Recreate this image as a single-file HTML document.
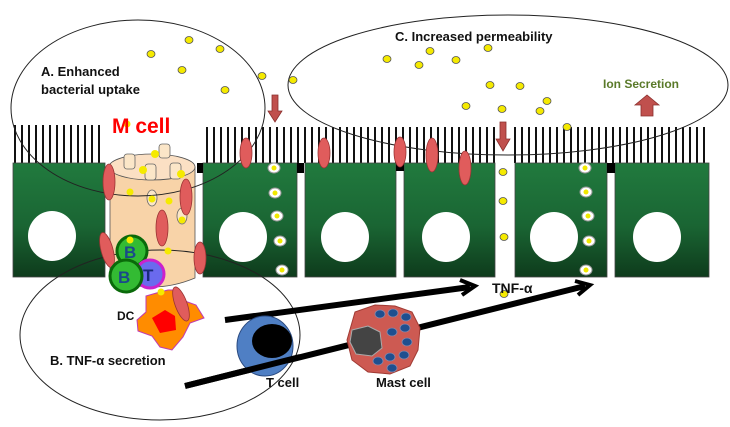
<!DOCTYPE html>
<html><head><meta charset="utf-8"><style>
html,body{margin:0;padding:0;background:#fff;width:730px;height:427px;overflow:hidden}
text{font-family:"Liberation Sans",sans-serif;font-weight:bold}
</style></head><body>
<svg width="730" height="427" viewBox="0 0 730 427" xmlns="http://www.w3.org/2000/svg">
<defs>
<linearGradient id="g" x1="0" y1="0" x2="0" y2="1">
<stop offset="0" stop-color="#217a3e"/><stop offset="0.55" stop-color="#1a6533"/><stop offset="1" stop-color="#0e3b1c"/></linearGradient>
<marker id="ah" markerWidth="10" markerHeight="10" refX="6" refY="5" orient="auto" markerUnits="userSpaceOnUse"><path d="M0,0 L8,5 L0,10" fill="none" stroke="#000" stroke-width="2.5"/></marker>
</defs>
<!-- microvilli -->
<g stroke="#111" stroke-width="2">
<path d="M15,125V163M22,125V163M29,125V163M36,125V163M43,125V163M50,125V163M57,125V163M64,125V163M71,125V163M78,125V163M85,125V163M92,125V163M99,125V163"/>
<path d="M207,127V163M214,127V163M221,127V163M228,127V163M235,127V163M242,127V163M249,127V163M256,127V163M263,127V163M270,127V163M277,127V163M284,127V163M291,127V163M298,127V163M305,127V163M312,127V163M319,127V163M326,127V163M333,127V163M340,127V163M347,127V163M354,127V163M361,127V163M368,127V163M375,127V163M382,127V163M389,127V163M396,127V163M403,127V163M410,127V163M417,127V163M424,127V163M431,127V163M438,127V163M445,127V163M452,127V163M459,127V163M466,127V163M473,127V163M480,127V163M487,127V163M494,127V163"/>
<path d="M515,127V163M522,127V163M529,127V163M536,127V163M543,127V163M550,127V163M557,127V163M564,127V163M571,127V163M578,127V163M585,127V163M592,127V163M599,127V163M606,127V163M613,127V163M620,127V163M627,127V163M634,127V163M641,127V163M648,127V163M655,127V163M662,127V163M669,127V163M676,127V163M683,127V163M690,127V163M697,127V163M704,127V163"/>
</g>
<!-- cells -->
<g fill="url(#g)" stroke="#444" stroke-width="0.8">
<rect x="13" y="163" width="92" height="114"/>
<rect x="203" y="163" width="94" height="114"/>
<rect x="305" y="163" width="91" height="114"/>
<rect x="404" y="163" width="91" height="114"/>
<rect x="515" y="163" width="92" height="114"/>
<rect x="615" y="163" width="94" height="114"/>
</g>
<g fill="#000"><rect x="197" y="163" width="6" height="10"/><rect x="297" y="163" width="7" height="10"/><rect x="396" y="163" width="8" height="8"/><rect x="607" y="163" width="8" height="10"/></g>
<g fill="#fff">
<ellipse cx="52" cy="236" rx="24" ry="25"/>
<ellipse cx="243" cy="237" rx="24" ry="25"/>
<ellipse cx="345" cy="237" rx="24" ry="25"/>
<ellipse cx="446" cy="237" rx="24" ry="25"/>
<ellipse cx="554" cy="237" rx="24" ry="25"/>
<ellipse cx="657" cy="237" rx="24" ry="25"/>
</g>
<!-- vesicles -->
<g fill="#fff" stroke="#999" stroke-width="1">
<ellipse cx="274" cy="168" rx="6" ry="5"/><ellipse cx="275" cy="193" rx="6" ry="5"/><ellipse cx="277" cy="216" rx="6" ry="5"/><ellipse cx="280" cy="241" rx="6" ry="5"/><ellipse cx="282" cy="270" rx="6" ry="5"/>
<ellipse cx="585" cy="168" rx="6" ry="5"/><ellipse cx="586" cy="192" rx="6" ry="5"/><ellipse cx="588" cy="216" rx="6" ry="5"/><ellipse cx="589" cy="241" rx="6" ry="5"/><ellipse cx="586" cy="270" rx="6" ry="5"/>
</g>
<g fill="#f0e800">
<circle cx="274" cy="168" r="2.5"/><circle cx="275" cy="193" r="2.5"/><circle cx="277" cy="216" r="2.5"/><circle cx="280" cy="241" r="2.5"/><circle cx="282" cy="270" r="2.5"/>
<circle cx="585" cy="168" r="2.5"/><circle cx="586" cy="192" r="2.5"/><circle cx="588" cy="216" r="2.5"/><circle cx="589" cy="241" r="2.5"/><circle cx="586" cy="270" r="2.5"/>
</g>
<!-- M cell -->
<path d="M110,167 V278 Q152,296 195,278 V167 Z" fill="#f8d3a8" stroke="#555" stroke-width="0.8"/>
<ellipse cx="152" cy="167" rx="43" ry="13" fill="#fbe0c4" stroke="#555" stroke-width="0.8"/>
<g fill="#fbe6c8" stroke="#666" stroke-width="0.8">
<rect x="124" y="154" width="11" height="15" rx="3"/><rect x="159" y="144" width="11" height="14" rx="3"/><rect x="145" y="164" width="11" height="16" rx="3"/><rect x="170" y="163" width="11" height="16" rx="3"/>
<ellipse cx="152" cy="198" rx="5" ry="8"/><ellipse cx="182" cy="216" rx="5" ry="8"/><ellipse cx="180" cy="7" rx="0" ry="0"/>
</g>
<!-- ellipses -->
<g fill="none" stroke="#222" stroke-width="1">
<ellipse cx="138" cy="108" rx="127" ry="88"/>
<ellipse cx="160" cy="335" rx="140" ry="85"/>
<ellipse cx="508" cy="85" rx="220" ry="70"/>
</g>
<!-- red ovals -->
<g fill="#e05c5c" stroke="#9a3333" stroke-width="0.8">
<ellipse cx="109" cy="182" rx="6" ry="18"/>
<ellipse cx="246" cy="153" rx="6" ry="15"/>
<ellipse cx="324" cy="153" rx="6" ry="15"/>
<ellipse cx="400" cy="152" rx="6" ry="15"/>
<ellipse cx="432" cy="155" rx="6" ry="17"/>
<ellipse cx="465" cy="168" rx="6" ry="17"/>
<ellipse cx="186" cy="197" rx="6" ry="18"/>
<ellipse cx="162" cy="228" rx="6" ry="18"/>
<ellipse cx="107" cy="250" rx="6" ry="18" transform="rotate(-15 107 250)"/>
<ellipse cx="200" cy="258" rx="6" ry="16"/>
</g>
<!-- lymphocytes -->
<circle cx="132" cy="251" r="15" fill="#33bb33" stroke="#0a6a0a" stroke-width="3"/>
<text x="124" y="258" font-size="17" font-weight="normal" fill="#1a4a8a">B</text>
<circle cx="150" cy="274" r="14" fill="#6a6aee" stroke="#cc22cc" stroke-width="3"/>
<text x="143" y="281" font-size="17" font-weight="normal" fill="#1a2a7a">T</text>
<circle cx="126" cy="276" r="16" fill="#33bb33" stroke="#0a6a0a" stroke-width="3"/>
<text x="118" y="283" font-size="17" font-weight="normal" fill="#1a4a8a">B</text>
<!-- DC -->
<path d="M146,296 L160,292 L168,290 L178,290 L182,300 L196,305 L204,318 L190,323 L183,337 L172,350 L160,347 L152,336 L138,331 L137,320 L146,312 Z" fill="#ff8c00" stroke="#c03ab0" stroke-width="1"/>
<path d="M152,318 L165,310 L175,316 L176,330 L160,333 Z" fill="#f00"/>
<ellipse cx="181" cy="304" rx="6" ry="18" transform="rotate(-20 181 304)" fill="#e05c5c" stroke="#9a3333" stroke-width="0.8"/>
<text x="117" y="320" font-size="12" fill="#111">DC</text>
<!-- arrows -->
<g stroke="#000" stroke-width="6" fill="none">
<line x1="225" y1="320" x2="470" y2="287"/>
<line x1="185" y1="386" x2="585" y2="286"/>
</g>
<path d="M460,280 L475,286 L462,295" fill="none" stroke="#000" stroke-width="4"/>
<path d="M575,281 L590,285 L578,295" fill="none" stroke="#000" stroke-width="4"/>
<!-- T cell -->
<ellipse cx="265" cy="346" rx="28" ry="30" fill="#4f7fc4" stroke="#2a4a80" stroke-width="1"/>
<ellipse cx="272" cy="341" rx="20" ry="17" fill="#000"/>
<line x1="185" y1="386" x2="300" y2="357" stroke="#000" stroke-width="6"/>
<text x="266" y="387" font-size="13" fill="#111">T cell</text>
<!-- Mast cell -->
<path d="M355,312 L375,305 L395,306 L412,312 L420,328 L418,350 L410,366 L390,374 L368,372 L352,360 L347,340 Z" fill="#cd5a52" stroke="#a03a33"/>
<path d="M352,330 L368,326 L380,332 L382,348 L372,356 L356,354 L350,342 Z" fill="#444" stroke="#aaa" stroke-width="1"/>
<g fill="#1f4f8f" stroke="#88a" stroke-width="0.8">
<ellipse cx="380" cy="314" rx="5" ry="4"/><ellipse cx="393" cy="313" rx="5" ry="4"/><ellipse cx="406" cy="317" rx="5" ry="4"/>
<ellipse cx="392" cy="332" rx="5" ry="4"/><ellipse cx="405" cy="328" rx="5" ry="4"/><ellipse cx="407" cy="342" rx="5" ry="4"/>
<ellipse cx="404" cy="355" rx="5" ry="4"/><ellipse cx="390" cy="357" rx="5" ry="4"/><ellipse cx="378" cy="361" rx="5" ry="4"/><ellipse cx="392" cy="368" rx="5" ry="4"/>
</g>
<text x="376" y="387" font-size="13" fill="#111">Mast cell</text>
<!-- bacteria -->
<g fill="#f5ea00" stroke="#555" stroke-width="0.8">
<ellipse cx="189" cy="40" rx="4" ry="3.5"/><ellipse cx="151" cy="54" rx="4" ry="3.5"/><ellipse cx="220" cy="49" rx="4" ry="3.5"/><ellipse cx="182" cy="70" rx="4" ry="3.5"/><ellipse cx="225" cy="90" rx="4" ry="3.5"/><ellipse cx="262" cy="76" rx="4" ry="3.5"/><ellipse cx="293" cy="80" rx="4" ry="3.5"/>
<ellipse cx="387" cy="59" rx="4" ry="3.5"/><ellipse cx="430" cy="51" rx="4" ry="3.5"/><ellipse cx="419" cy="65" rx="4" ry="3.5"/><ellipse cx="456" cy="60" rx="4" ry="3.5"/><ellipse cx="488" cy="48" rx="4" ry="3.5"/>
<ellipse cx="490" cy="85" rx="4" ry="3.5"/><ellipse cx="520" cy="86" rx="4" ry="3.5"/><ellipse cx="466" cy="106" rx="4" ry="3.5"/><ellipse cx="502" cy="109" rx="4" ry="3.5"/><ellipse cx="547" cy="101" rx="4" ry="3.5"/><ellipse cx="540" cy="111" rx="4" ry="3.5"/><ellipse cx="567" cy="127" rx="4" ry="3.5"/>
<ellipse cx="503" cy="172" rx="4" ry="3.5"/><ellipse cx="503" cy="201" rx="4" ry="3.5"/><ellipse cx="504" cy="237" rx="4" ry="3.5"/><ellipse cx="504" cy="294" rx="4" ry="3.5"/>
</g>
<g fill="#f5ea00">
<circle cx="155" cy="154" r="4"/><circle cx="143" cy="170" r="4"/><circle cx="181" cy="174" r="4"/><circle cx="130" cy="192" r="3.5"/><circle cx="152" cy="199" r="3.5"/><circle cx="169" cy="201" r="3.5"/><circle cx="182" cy="220" r="3.5"/><circle cx="168" cy="251" r="3.5"/><circle cx="130" cy="240" r="3.5"/><circle cx="161" cy="292" r="3.5"/><circle cx="127" cy="124" r="3.5"/>
</g>
<!-- brown arrows -->
<g fill="#c0504d" stroke="#8a2f2d" stroke-width="0.8">
<path d="M272,95 h6 v16 h4 l-7,11 l-7,-11 h4 z"/>
<path d="M500,122 h6 v17 h4 l-7,12 l-7,-12 h4 z"/>
<path d="M641,116 v-11 h-6 l12,-10 l12,10 h-6 v11 z"/>
</g>
<!-- labels -->
<text x="41" y="76" font-size="13" fill="#111">A. Enhanced</text>
<text x="41" y="94" font-size="13" fill="#111">bacterial  uptake</text>
<text x="112" y="133" font-size="21" font-weight="normal" fill="#f00">M cell</text>
<text x="395" y="41" font-size="13" fill="#111">C. Increased  permeability</text>
<text x="603" y="88" font-size="12" fill="#5a7a2a">Ion Secretion</text>
<text x="50" y="365" font-size="13" fill="#111">B. TNF-α secretion</text>
<text x="492" y="293" font-size="14" fill="#111">TNF-α</text>
</svg>
</body></html>
